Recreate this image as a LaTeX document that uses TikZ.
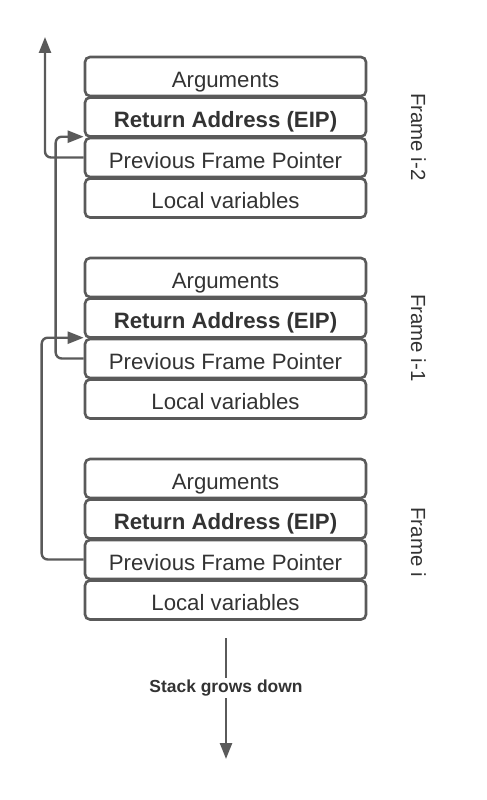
\documentclass[tikz,border=0pt]{standalone}
\usepackage{fontspec}
\setmainfont{Liberation Sans}
\usetikzlibrary{arrows.meta,calc}
\definecolor{lc}{HTML}{5A5A5A}
\definecolor{tc}{HTML}{333333}
\begin{document}
\begin{tikzpicture}[x=1bp,y=-1bp,
  rowbox/.style={draw=lc,line width=2.6bp,rounded corners=5bp,minimum width=281bp,minimum height=39bp,
    inner sep=0pt,text=tc,text height=21bp,text depth=0pt,font=\fontsize{22.3}{26}\selectfont},
  conn/.style={draw=lc,line width=2.4bp,rounded corners=6bp,-{Triangle[length=16bp,width=12bp]}},
  framelbl/.style={rotate=-90,anchor=base,text=tc,inner sep=0pt,font=\fontsize{20.5}{24}\selectfont},
  stacklbl/.style={fill=white,text=tc,inner xsep=2bp,inner ysep=0pt,minimum height=20bp,font=\fontsize{17.5}{21}\selectfont\bfseries}]
\useasboundingbox (0,0) rectangle (487,800);
% Frame i-2
\node[rowbox] (f1a) at (225.5,76.5) {Arguments};
\node[rowbox] (f1r) at (225.5,117) {\bfseries Return Address (EIP)};
\node[rowbox] (f1p) at (225.5,157.5) {Previous Frame Pointer};
\node[rowbox] (f1l) at (225.5,198) {Local variables};
% Frame i-1
\node[rowbox] (f2a) at (225.5,277.5) {Arguments};
\node[rowbox] (f2r) at (225.5,318) {\bfseries Return Address (EIP)};
\node[rowbox] (f2p) at (225.5,358.5) {Previous Frame Pointer};
\node[rowbox] (f2l) at (225.5,399) {Local variables};
% Frame i
\node[rowbox] (f3a) at (225.5,478.5) {Arguments};
\node[rowbox] (f3r) at (225.5,519) {\bfseries Return Address (EIP)};
\node[rowbox] (f3p) at (225.5,559.5) {Previous Frame Pointer};
\node[rowbox] (f3l) at (225.5,600) {Local variables};
% frame labels
\node[framelbl] (l1) at (411,137) {Frame i-2};
\node[framelbl] (l2) at (411,338) {Frame i-1};
\node[framelbl] (l3) at (411,542) {Frame i};
% connectors
\coordinate (top) at (45,37);
\draw[conn] (f1p.west) -| (top);
\draw[conn] (f2p.west) -| ([xshift=-28bp]f1p.north west) -- (f1p.north west);
\draw[conn] (f3p.west) -| ([xshift=-42bp]f2p.north west) -- (f2p.north west);
% stack grows down
\coordinate (s1) at (226,638);
\coordinate (s2) at (226,759);
\draw[conn] (s1) -- (s2);
\node[stacklbl] (sg) at (226,688) {Stack grows down};
\end{tikzpicture}
\end{document}
